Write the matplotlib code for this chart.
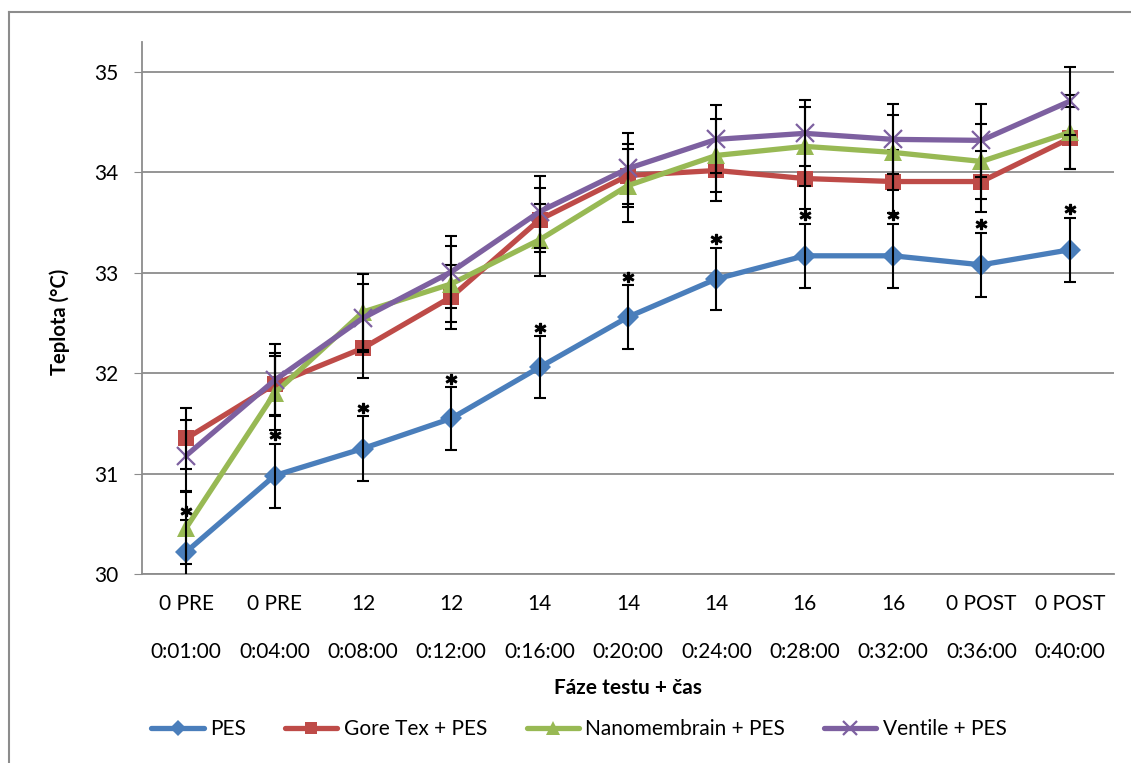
import numpy as np
import matplotlib
matplotlib.use("Agg")
import matplotlib.pyplot as plt
from matplotlib.transforms import blended_transform_factory, ScaledTranslation

plt.rcParams['font.family'] = ['Lato', 'DejaVu Sans']

phases = ["0 PRE", "0 PRE", "12", "12", "14", "14", "14", "16", "16", "0 POST", "0 POST"]
times = ["0:01:00", "0:04:00", "0:08:00", "0:12:00", "0:16:00", "0:20:00",
         "0:24:00", "0:28:00", "0:32:00", "0:36:00", "0:40:00"]

pes = [30.22, 30.98, 31.25, 31.55, 32.06, 32.56, 32.94, 33.17, 33.17, 33.08, 33.23]
gore = [31.35, 31.89, 32.25, 32.76, 33.53, 33.97, 34.02, 33.94, 33.91, 33.91, 34.34]
nano = [30.46, 31.80, 32.61, 32.89, 33.33, 33.87, 34.17, 34.26, 34.20, 34.11, 34.40]
ventile = [31.18, 31.93, 32.55, 33.01, 33.61, 34.04, 34.33, 34.39, 34.33, 34.32, 34.71]

pes_sd = [0.32, 0.32, 0.32, 0.31, 0.31, 0.32, 0.31, 0.32, 0.32, 0.32, 0.32]
gore_sd = [0.30, 0.31, 0.30, 0.32, 0.32, 0.31, 0.30, 0.30, 0.31, 0.30, 0.31]
nano_sd = [0.36, 0.37, 0.38, 0.38, 0.36, 0.36, 0.36, 0.39, 0.37, 0.37, 0.37]
ventile_sd = [0.35, 0.36, 0.34, 0.36, 0.36, 0.35, 0.34, 0.33, 0.35, 0.36, 0.34]

series = [
    ("PES", pes, pes_sd, "#4A7EBB", "D", 11),
    ("Gore Tex + PES", gore, gore_sd, "#BE4B48", "s", 12),
    ("Nanomembrain + PES", nano, nano_sd, "#98B954", "^", 13),
    ("Ventile + PES", ventile, ventile_sd, "#7D60A0", "x", 13),
]

W, H = 1131, 763
fig = plt.figure(figsize=(W / 100, H / 100), dpi=100)
ax = fig.add_axes([142 / W, 1 - 574 / H, (1114 - 142) / W, (574 - 42) / H])

x = np.arange(len(times))
for i, (name, vals, sd, col, mk, ms) in enumerate(series):
    ax.plot(x, vals, color=col, lw=3.8, marker=mk, ms=ms, mew=1.6 if mk == "x" else 0,
            mec=col, label=name, zorder=3 + i, solid_capstyle="round")
    ax.errorbar(x, vals, yerr=sd, fmt="none", ecolor="black", elinewidth=1.5,
                capsize=4.5, capthick=1.5, zorder=3.5 + i)

# significance marks above PES error bars
off = ax.transData + ScaledTranslation(0, 6 / 72, fig.dpi_scale_trans)
ax.plot(x, np.array(pes) + np.array(pes_sd), ls="none", marker=r"$\mathbf{*}$",
        ms=7.5, color="black", transform=off, zorder=10)

ax.set_xlim(-0.5, len(times) - 0.5)
ax.set_ylim(30, 35.3)
ax.set_yticks(range(30, 36))
ax.yaxis.grid(True, color="#8C8C8C", lw=1.3)
ax.set_axisbelow(True)
for s in ["top", "right"]:
    ax.spines[s].set_visible(False)
ax.spines["left"].set_color("#8C8C8C")
ax.spines["bottom"].set_color("#8C8C8C")
ax.spines["left"].set_linewidth(1.3)
ax.spines["bottom"].set_linewidth(1.3)
ax.tick_params(axis="y", length=6, color="#8C8C8C", labelsize=15, pad=11)
ax.tick_params(axis="x", length=0, labelbottom=False)

tr = blended_transform_factory(ax.transData, fig.transFigure)
for xi, ph, tm in zip(x, phases, times):
    ax.text(xi, 1 - 604 / H, ph, transform=tr, ha="center", va="center", fontsize=15)
    ax.text(xi, 1 - 652 / H, tm, transform=tr, ha="center", va="center", fontsize=15)

fig.text(628 / W, 1 - 688 / H, "Fáze testu + čas", ha="center", va="center",
         fontsize=15, fontweight="bold")
fig.text(60 / W, 1 - 322 / H, "Teplota (°C)", ha="center", va="center",
         rotation=90, fontsize=14.5, fontweight="bold")

fig.legend(loc="center", bbox_to_anchor=(579 / W, 1 - 729 / H), ncol=4, frameon=False,
           fontsize=15, handlelength=2.5, handletextpad=0.3, columnspacing=1.9,
           markerscale=0.75)

# outer chart border
fig.add_artist(plt.Line2D([9 / W, 9 / W], [0, 1 - 12 / H], color="#8C8C8C", lw=1.5,
                          transform=fig.transFigure))
fig.add_artist(plt.Line2D([9 / W, 1], [1 - 12 / H, 1 - 12 / H], color="#8C8C8C", lw=1.5,
                          transform=fig.transFigure))

fig.savefig("out.png", dpi=100)
